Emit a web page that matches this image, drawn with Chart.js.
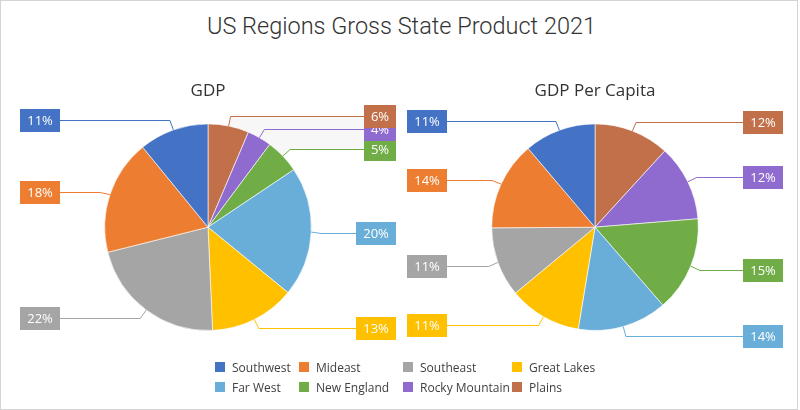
<!DOCTYPE html>
<html>
<head>
<meta charset="utf-8">
<script src="https://cdn.jsdelivr.net/npm/chart.js@4.4.1/dist/chart.umd.min.js"></script>
<style>
  html, body { margin: 0; padding: 0; background: #fff; }
  body { width: 800px; height: 410px; position: relative; overflow: hidden; font-family: "Open Sans", "Noto Sans", sans-serif; }
  #frame { position: absolute; left: 0; top: 0; width: 796px; height: 408px; border: 1px solid #D4D4D4; }
  #title { position: absolute; left: 0; top: 14px; width: 803px; text-align: center; font-family: Roboto, "Open Sans", sans-serif; font-size: 23.5px; line-height: 24px; font-weight: 300; color: #333; }
  canvas { position: absolute; top: 0; }
  #c1 { left: 0; }
  #c2 { left: 400px; }
  #legend { position: absolute; left: 215px; top: 357px; display: grid; grid-template-columns: 84px 104px 109px auto; grid-auto-rows: 20px; font-size: 12px; color: #404040; }
  .li { display: flex; align-items: center; white-space: nowrap; }
  .sw { width: 10px; height: 10px; margin-right: 7px; flex: none; }
</style>
</head>
<body>
<div id="frame"></div>
<div id="title">US Regions Gross State Product 2021</div>
<canvas id="c1" width="400" height="410"></canvas>
<canvas id="c2" width="400" height="410"></canvas>
<div id="legend"></div>
<script>
// ---- data (legend order) ----
const regions = ["Southwest", "Mideast", "Southeast", "Great Lakes", "Far West", "New England", "Rocky Mountain", "Plains"];
const colors = ["#4472C4", "#ED7D31", "#A5A5A5", "#FFC000", "#69AED8", "#70AD47", "#8F6ACF", "#C2704A"];
const gdpShare = [10.9, 18.0, 21.8, 13.4, 20.3, 5.4, 3.8, 6.4];
const perCapitaShare = [11.2, 13.9, 10.9, 11.4, 14.0, 14.9, 11.9, 11.8];
const chartTitles = ["GDP", "GDP Per Capita"];

// slices run counter-clockwise from 12 o'clock in the reference,
// so feed Chart.js (clockwise) the reversed order
const rev = a => a.slice().reverse();

const callouts = {
  id: 'callouts',
  geom(chart) {
    const meta = chart.getDatasetMeta(0);
    const ds = chart.data.datasets[0];
    const total = ds.data.reduce((a, b) => a + b, 0);
    const ctx = chart.ctx;
    ctx.save();
    ctx.font = '13px "Open Sans", "Noto Sans", sans-serif';
    const out = meta.data.map((arc, i) => {
      const p = arc.getProps(['x', 'y', 'startAngle', 'endAngle', 'outerRadius'], true);
      const mid = (p.startAngle + p.endAngle) / 2;
      const c = Math.cos(mid), s = Math.sin(mid);
      const r = p.outerRadius;
      const text = Math.round(ds.data[i] / total * 100) + '%';
      const w = Math.round(ctx.measureText(text).width) + 14;
      const right = c >= 0;
      const bx = right ? p.x + 188 - w : p.x - 188;
      const ey = Math.round(p.y + s * (r + 10));
      return {
        label: chart.data.labels[i], color: ds.backgroundColor[i], text, w,
        px: p.x + c * r, py: p.y + s * r,
        ex: p.x + c * (r + 10), ey,
        bx, lx: right ? bx : bx + w, right
      };
    });
    ctx.restore();
    return out;
  },
  beforeDatasetsDraw(chart, args, opts) {
    if (!opts.shade) return;
    const g = this.geom(chart);
    const a = g.find(o => o.label === opts.shade[0]);
    const b = g.find(o => o.label === opts.shade[1]);
    const ctx = chart.ctx;
    ctx.save();
    ctx.fillStyle = '#F7F7F7';
    ctx.beginPath();
    ctx.moveTo(a.px, a.py);
    ctx.lineTo(a.ex, a.ey);
    ctx.lineTo(a.lx, a.ey);
    ctx.lineTo(b.lx, b.ey);
    ctx.lineTo(b.ex, b.ey);
    ctx.lineTo(b.px, b.py);
    ctx.closePath();
    ctx.fill();
    ctx.restore();
  },
  afterDatasetsDraw(chart) {
    const g = this.geom(chart);
    const ctx = chart.ctx;
    ctx.save();
    for (let i = g.length - 1; i >= 0; i--) {
      const o = g[i];
      ctx.strokeStyle = o.color;
      ctx.lineWidth = 1;
      ctx.beginPath();
      ctx.moveTo(o.px, o.py);
      ctx.lineTo(o.ex, o.ey + 0.5);
      ctx.lineTo(o.lx, o.ey + 0.5);
      ctx.stroke();
    }
    for (let i = g.length - 1; i >= 0; i--) {
      const o = g[i];
      ctx.fillStyle = o.color;
      ctx.fillRect(o.bx, o.ey - 11, o.w, 23);
      ctx.fillStyle = '#FFFFFF';
      ctx.font = '13px "Open Sans", "Noto Sans", sans-serif';
      ctx.textAlign = 'center';
      ctx.textBaseline = 'middle';
      ctx.fillText(o.text, o.bx + o.w / 2, o.ey + 1);
    }
    ctx.restore();
  }
};

function makePie(id, title, values, pad, shade) {
  return new Chart(document.getElementById(id), {
    type: 'pie',
    data: {
      labels: rev(regions),
      datasets: [{
        data: rev(values),
        backgroundColor: rev(colors),
        borderColor: 'rgba(255,255,255,0.6)',
        borderWidth: 1
      }]
    },
    options: {
      responsive: false,
      devicePixelRatio: 1,
      animation: false,
      events: [],
      layout: { padding: pad },
      plugins: {
        legend: { display: false },
        tooltip: { enabled: false },
        title: {
          display: true,
          text: title,
          color: '#333333',
          font: { family: '"Open Sans", "Noto Sans", sans-serif', size: 17, weight: 'normal' },
          padding: { top: 0, bottom: 22 }
        },
        callouts: { shade }
      }
    },
    plugins: [callouts]
  });
}

makePie('c1', chartTitles[0], gdpShare, { top: 81, left: 104, right: 88, bottom: 79 }, ['Plains', 'New England']);
makePie('c2', chartTitles[1], perCapitaShare, { top: 81, left: 91, right: 101, bottom: 79 }, null);

const lg = document.getElementById('legend');
regions.forEach((r, i) => {
  const d = document.createElement('div');
  d.className = 'li';
  d.innerHTML = '<span class="sw" style="background:' + colors[i] + '"></span><span>' + r + '</span>';
  lg.appendChild(d);
});
</script>
</body>
</html>
